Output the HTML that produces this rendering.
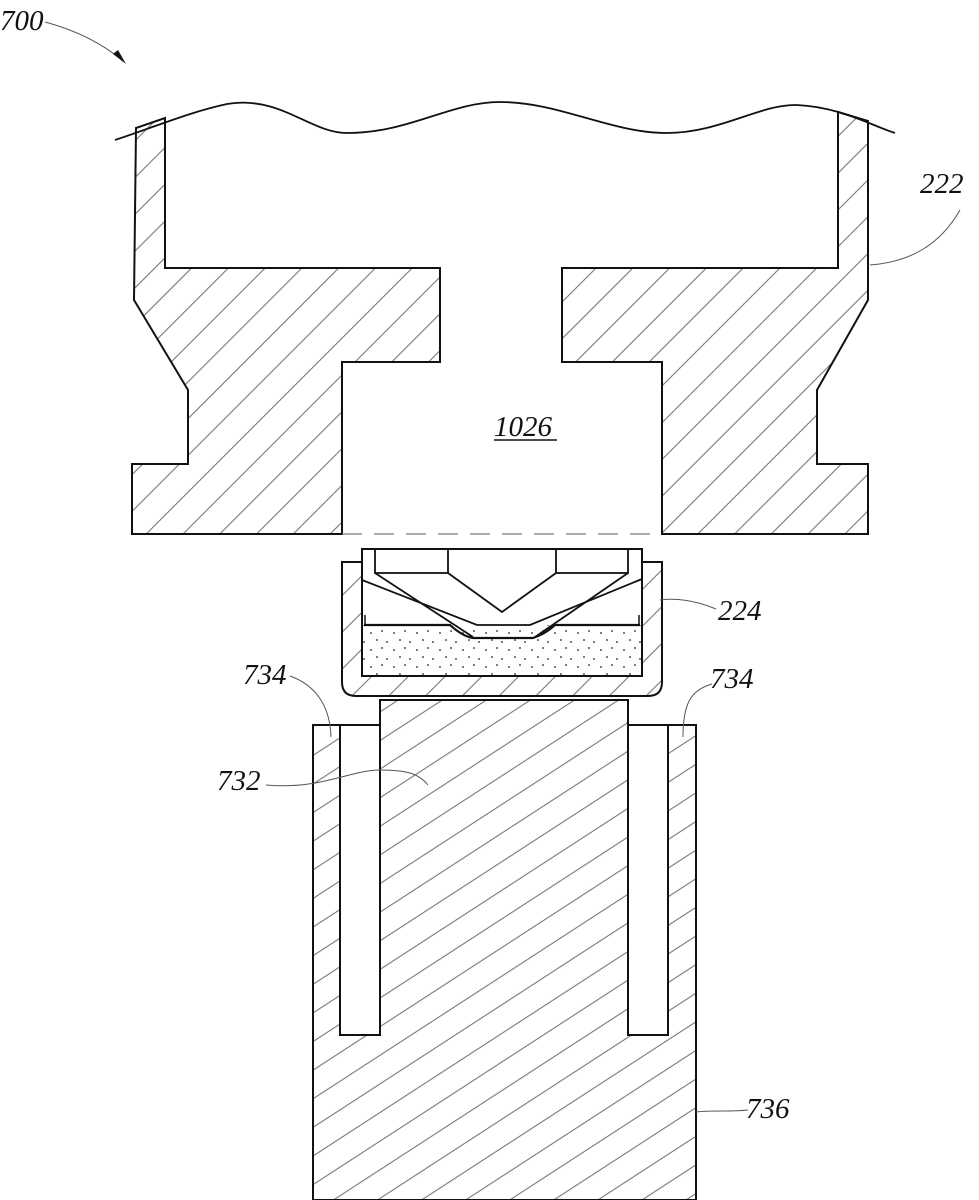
<!DOCTYPE html>
<html><head><meta charset="utf-8"><style>
html,body{margin:0;padding:0;background:#fff;}
svg{display:block;}
text{font-family:"Liberation Serif",serif;font-style:italic;font-size:29px;fill:#111;}
</style></head><body>
<svg width="979" height="1200" viewBox="0 0 979 1200" xmlns="http://www.w3.org/2000/svg">
<defs>
<pattern id="h1" patternUnits="userSpaceOnUse" width="26" height="26" patternTransform="rotate(45)">
<line x1="13" y1="0" x2="13" y2="26" stroke="#777" stroke-width="1.1"/>
</pattern>
<pattern id="h2" patternUnits="userSpaceOnUse" width="24" height="24" patternTransform="rotate(57)">
<line x1="12" y1="0" x2="12" y2="24" stroke="#777" stroke-width="1.1"/>
</pattern>
<pattern id="dots" patternUnits="userSpaceOnUse" width="23" height="17">
<circle cx="3" cy="4" r="0.9" fill="#222"/><circle cx="14" cy="2" r="0.9" fill="#222"/><circle cx="9" cy="11" r="0.9" fill="#222"/><circle cx="19" cy="13" r="0.9" fill="#222"/>
</pattern>
</defs>
<g stroke="#111" stroke-width="2" fill="none" stroke-linejoin="miter">
<path d="M136,128 L134,300 L188,390 L188,464 L132,464 L132,534 L342,534 L342,362 L440,362 L440,268 L165,268 L165,118 Z" fill="url(#h1)"/>
<path d="M868,121 L868,300 L817,390 L817,464 L868,464 L868,534 L662,534 L662,362 L562,362 L562,268 L838,268 L838,112 Z" fill="url(#h1)"/>
<path d="M115,140 C160,125 190,112 227,104 C280,95 310,133 347,133 C410,133 450,102 500,102 C560,102 610,133 667,133 C720,133 760,104 797,105 C840,107 870,125 895,133" stroke-width="1.8"/>
<line x1="342" y1="534" x2="662" y2="534" stroke="#777" stroke-width="1.2" stroke-dasharray="20,12"/>
<path d="M342,562 L662,562 L662,682 Q662,696 648,696 L356,696 Q342,696 342,682 Z" fill="url(#h1)" stroke-width="2"/>
<rect x="362" y="549" width="280" height="127" fill="#fff"/>
<rect x="362" y="625" width="280" height="51" fill="url(#dots)" stroke="none"/>
<path d="M362,549 L642,549 M362,549 L362,676 L642,676 L642,549"/>
<rect x="375" y="549" width="73" height="24" stroke-width="1.8"/>
<rect x="556" y="549" width="72" height="24" stroke-width="1.8"/>
<path d="M448,573 L502,612 L556,573" stroke-width="1.8"/>
<path d="M362,580 L477,625 L530,625 L642,579" stroke-width="1.8"/>
<path d="M375,573 L473,637 M628,573 L535,637" stroke-width="1.8"/>
<path d="M364,625 L450,625 Q462,636 473,638 L533,638 Q545,634 555,625 L640,625" stroke-width="2.2"/>
<path d="M365,615 L365,625 M639,615 L639,625" stroke-width="1.5"/>
<path d="M313,725 L340,725 L340,1035 L380,1035 L380,700 L628,700 L628,1035 L668,1035 L668,725 L696,725 L696,1200 L313,1200 Z" fill="url(#h2)"/>
<path d="M340,725 L380,725 M628,725 L668,725" stroke-width="2"/>
</g>
<g stroke="#555" stroke-width="1" fill="none">
<path d="M45,22 C75,30 100,42 122,60"/>
<path d="M960,210 C940,245 910,262 870,265"/>
<path d="M716,609 C695,600 675,598 660,600"/>
<path d="M290,676 C315,685 330,705 331,737"/>
<path d="M712,684 C690,690 683,705 683,737"/>
<path d="M266,785 C320,790 350,770 380,770 C410,770 420,775 428,785"/>
<path d="M748,1110 C730,1112 712,1110 696,1112"/>
</g>
<path d="M113,54 L126,64 L118,50 Z" fill="#111"/>
<text x="0" y="30">700</text>
<text x="920" y="193">222</text>
<text x="494" y="436">1026</text>
<line x1="494" y1="440" x2="557" y2="440" stroke="#111" stroke-width="1.5"/>
<text x="718" y="620">224</text>
<text x="243" y="684">734</text>
<text x="710" y="688">734</text>
<text x="217" y="790">732</text>
<text x="746" y="1118">736</text>
</svg>
</body></html>
